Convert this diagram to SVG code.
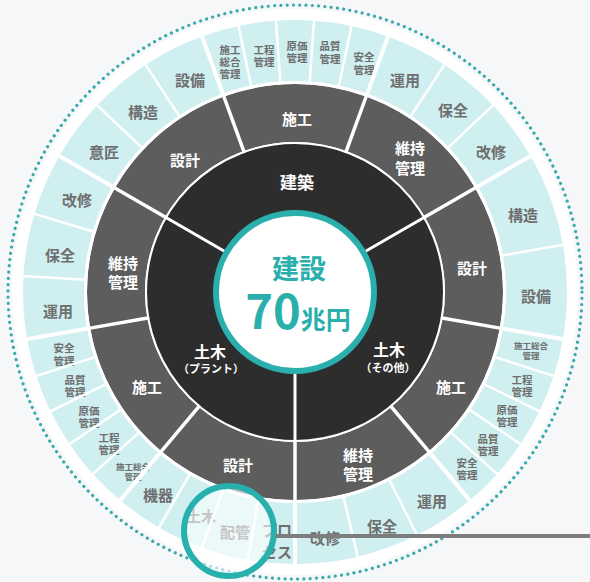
<svg xmlns="http://www.w3.org/2000/svg" width="590" height="582" viewBox="0 0 590 582">
<defs>
<style>
text{font-family:"Noto Sans CJK JP","Noto Sans CJK SC",sans-serif;text-anchor:middle;font-weight:700}
.c{fill:none;stroke:#cfeff1;stroke-width:61}
.s13{stroke-dasharray:57.2 2000}
.s8{stroke-dasharray:34.7 2000}
.s20{stroke-dasharray:85.3 2000}
.s10{stroke-dasharray:43.2 2000}
.g{fill:none;stroke:#5d5d5d;stroke-width:58;stroke-dasharray:126 2000}
.b{fill:none;stroke:#2d2d2d;stroke-width:70;stroke-dasharray:240 2000}
.t2{font-size:15px;fill:#6e6e6e}
.t4{font-size:10.5px;fill:#6e6e6e}
.t9{font-size:8.5px;fill:#6e6e6e}
.w{font-size:15px;fill:#fff}
#separators line{stroke:#fff}
.sb{stroke-width:3}
.sg{stroke-width:3.5}
.sc{stroke-width:4}
.si{stroke-width:2.5}
</style>
</defs>
<rect x="0" y="0" width="590" height="582" fill="#f5f7f9"/>
<circle cx="295" cy="292" r="283" fill="#fff"/>
<circle cx="295" cy="292" r="287" fill="none" stroke="#38a9ac" stroke-width="3.2" stroke-dasharray="0.01 6.3" stroke-linecap="round"/>

<!-- outer ring cells -->
<g id="c01"><circle class="c s13" r="241.5" transform="translate(295 292) rotate(210)"/><text class="t2" x="104" y="157.5">意匠</text></g>
<g id="c02"><circle class="c s13" r="241.5" transform="translate(295 292) rotate(223.333)"/><text class="t2" x="143" y="117.5">構造</text></g>
<g id="c03"><circle class="c s13" r="241.5" transform="translate(295 292) rotate(236.667)"/><text class="t2" x="190" y="85.5">設備</text></g>
<g id="c04"><circle class="c s8" r="241.5" transform="translate(295 292) rotate(250)"/><text class="t4" x="230" y="54"><tspan x="230">施工</tspan><tspan x="230" dy="12">総合</tspan><tspan x="230" dy="12">管理</tspan></text></g>
<g id="c05"><circle class="c s8" r="241.5" transform="translate(295 292) rotate(258)"/><text class="t4" x="264" y="54"><tspan x="264">工程</tspan><tspan x="264" dy="12">管理</tspan></text></g>
<g id="c06"><circle class="c s8" r="241.5" transform="translate(295 292) rotate(266)"/><text class="t4" x="297" y="49.5"><tspan x="297">原価</tspan><tspan x="297" dy="12.5">管理</tspan></text></g>
<g id="c07"><circle class="c s8" r="241.5" transform="translate(295 292) rotate(-86)"/><text class="t4" x="330" y="50"><tspan x="330">品質</tspan><tspan x="330" dy="12.5">管理</tspan></text></g>
<g id="c08"><circle class="c s8" r="241.5" transform="translate(295 292) rotate(-78)"/><text class="t4" x="364" y="61"><tspan x="364">安全</tspan><tspan x="364" dy="12.5">管理</tspan></text></g>
<g id="c09"><circle class="c s13" r="241.5" transform="translate(295 292) rotate(-70)"/><text class="t2" x="405" y="85.5">運用</text></g>
<g id="c10"><circle class="c s13" r="241.5" transform="translate(295 292) rotate(-56.667)"/><text class="t2" x="453" y="115.5">保全</text></g>
<g id="c11"><circle class="c s13" r="241.5" transform="translate(295 292) rotate(-43.333)"/><text class="t2" x="491" y="157.5">改修</text></g>
<g id="c12"><circle class="c s20" r="241.5" transform="translate(295 292) rotate(-30)"/><text class="t2" x="523" y="220.5">構造</text></g>
<g id="c13"><circle class="c s20" r="241.5" transform="translate(295 292) rotate(-10)"/><text class="t2" x="536" y="302">設備</text></g>
<g id="c14"><circle class="c s8" r="241.5" transform="translate(295 292) rotate(10)"/><text class="t9" x="531" y="349"><tspan x="531">施工総合</tspan><tspan x="531" dy="10">管理</tspan></text></g>
<g id="c15"><circle class="c s8" r="241.5" transform="translate(295 292) rotate(18)"/><text class="t4" x="522" y="383.5"><tspan x="522">工程</tspan><tspan x="522" dy="12">管理</tspan></text></g>
<g id="c16"><circle class="c s8" r="241.5" transform="translate(295 292) rotate(26)"/><text class="t4" x="507" y="414"><tspan x="507">原価</tspan><tspan x="507" dy="12">管理</tspan></text></g>
<g id="c17"><circle class="c s8" r="241.5" transform="translate(295 292) rotate(34)"/><text class="t4" x="488" y="442.5"><tspan x="488">品質</tspan><tspan x="488" dy="12">管理</tspan></text></g>
<g id="c18"><circle class="c s8" r="241.5" transform="translate(295 292) rotate(42)"/><text class="t4" x="467" y="467"><tspan x="467">安全</tspan><tspan x="467" dy="12">管理</tspan></text></g>
<g id="c19"><circle class="c s13" r="241.5" transform="translate(295 292) rotate(50)"/><text class="t2" x="432" y="506.5">運用</text></g>
<g id="c20"><circle class="c s13" r="241.5" transform="translate(295 292) rotate(63.333)"/><text class="t2" x="382" y="531.5">保全</text></g>
<g id="c21"><circle class="c s13" r="241.5" transform="translate(295 292) rotate(76.667)"/><text class="t2" x="325" y="543.5">改修</text></g>
<g id="c22"><circle class="c s10" r="241.5" transform="translate(295 292) rotate(90)"/><text class="t2" x="277" y="535.5"><tspan x="277">プロ</tspan><tspan x="277" dy="22">セス</tspan></text></g>
<g id="c23"><circle class="c s10" r="241.5" transform="translate(295 292) rotate(100)"/><text class="t2" x="235" y="537.5">配管</text></g>
<g id="c24"><circle class="c s10" r="241.5" transform="translate(295 292) rotate(110)"/><text class="t2" x="201" y="521.5">土木</text></g>
<g id="c25"><circle class="c s10" r="241.5" transform="translate(295 292) rotate(120)"/><text class="t2" x="158" y="500.5">機器</text></g>
<g id="c26"><circle class="c s8" r="241.5" transform="translate(295 292) rotate(130)"/><text class="t9" x="133" y="470"><tspan x="133">施工総合</tspan><tspan x="133" dy="10">管理</tspan></text></g>
<g id="c27"><circle class="c s8" r="241.5" transform="translate(295 292) rotate(138)"/><text class="t4" x="109" y="442"><tspan x="109">工程</tspan><tspan x="109" dy="12">管理</tspan></text></g>
<g id="c28"><circle class="c s8" r="241.5" transform="translate(295 292) rotate(146)"/><text class="t4" x="89" y="415"><tspan x="89">原価</tspan><tspan x="89" dy="12">管理</tspan></text></g>
<g id="c29"><circle class="c s8" r="241.5" transform="translate(295 292) rotate(154)"/><text class="t4" x="75" y="384"><tspan x="75">品質</tspan><tspan x="75" dy="12">管理</tspan></text></g>
<g id="c30"><circle class="c s8" r="241.5" transform="translate(295 292) rotate(162)"/><text class="t4" x="64" y="352"><tspan x="64">安全</tspan><tspan x="64" dy="12.5">管理</tspan></text></g>
<g id="c31"><circle class="c s13" r="241.5" transform="translate(295 292) rotate(170)"/><text class="t2" x="58" y="316.5">運用</text></g>
<g id="c32"><circle class="c s13" r="241.5" transform="translate(295 292) rotate(183.333)"/><text class="t2" x="60" y="260.5">保全</text></g>
<g id="c33"><circle class="c s13" r="241.5" transform="translate(295 292) rotate(196.667)"/><text class="t2" x="77" y="205.5">改修</text></g>

<!-- middle ring -->
<g id="g1"><circle class="g" r="179" transform="translate(295 292) rotate(250)"/><text class="w" x="297" y="125">施工</text></g>
<g id="g2"><circle class="g" r="179" transform="translate(295 292) rotate(-70)"/><text class="w" x="410" y="153.5"><tspan x="410">維持</tspan><tspan x="410" dy="20">管理</tspan></text></g>
<g id="g3"><circle class="g" r="179" transform="translate(295 292) rotate(-30)"/><text class="w" x="472" y="273.5">設計</text></g>
<g id="g4"><circle class="g" r="179" transform="translate(295 292) rotate(10)"/><text class="w" x="451" y="392.5">施工</text></g>
<g id="g5"><circle class="g" r="179" transform="translate(295 292) rotate(50)"/><text class="w" x="358" y="460.5"><tspan x="358">維持</tspan><tspan x="358" dy="19">管理</tspan></text></g>
<g id="g6"><circle class="g" r="179" transform="translate(295 292) rotate(90)"/><text class="w" x="238" y="470.5">設計</text></g>
<g id="g7"><circle class="g" r="179" transform="translate(295 292) rotate(130)"/><text class="w" x="147" y="392.5">施工</text></g>
<g id="g8"><circle class="g" r="179" transform="translate(295 292) rotate(170)"/><text class="w" x="123" y="268.5"><tspan x="123">維持</tspan><tspan x="123" dy="19">管理</tspan></text></g>
<g id="g9"><circle class="g" r="179" transform="translate(295 292) rotate(210)"/><text class="w" x="185" y="165.5">設計</text></g>

<!-- inner ring -->
<g id="kenchiku"><circle class="b" r="114" transform="translate(295 292) rotate(210)"/><text class="w" style="font-size:17px" x="297" y="188.5">建築</text></g>
<g id="doboku-other"><circle class="b" r="114" transform="translate(295 292) rotate(-30)"/><text class="w" style="font-size:16px" x="389" y="356">土木</text><text class="w" style="font-size:11px" x="388" y="372">（その他）</text></g>
<g id="doboku-plant"><circle class="b" r="114" transform="translate(295 292) rotate(90)"/><text class="w" style="font-size:16px" x="210" y="358">土木</text><text class="w" style="font-size:11px" x="211" y="373">（プラント）</text></g>

<g id="separators" transform="translate(295 292)">
<circle r="149" fill="none" stroke="#fff" stroke-width="2"/>
<circle r="209.5" fill="none" stroke="#fff" stroke-width="3"/>
<line class="sb" x1="0" y1="-76" x2="0" y2="-150" transform="rotate(60)"/>
<line class="sb" x1="0" y1="-76" x2="0" y2="-150" transform="rotate(180)"/>
<line class="sb" x1="0" y1="-76" x2="0" y2="-150" transform="rotate(300)"/>
<line class="sg" x1="0" y1="-148" x2="0" y2="-211" transform="rotate(20)"/>
<line class="sg" x1="0" y1="-148" x2="0" y2="-211" transform="rotate(60)"/>
<line class="sg" x1="0" y1="-148" x2="0" y2="-211" transform="rotate(100)"/>
<line class="sg" x1="0" y1="-148" x2="0" y2="-211" transform="rotate(140)"/>
<line class="sg" x1="0" y1="-148" x2="0" y2="-211" transform="rotate(180)"/>
<line class="sg" x1="0" y1="-148" x2="0" y2="-211" transform="rotate(220)"/>
<line class="sg" x1="0" y1="-148" x2="0" y2="-211" transform="rotate(260)"/>
<line class="sg" x1="0" y1="-148" x2="0" y2="-211" transform="rotate(300)"/>
<line class="sg" x1="0" y1="-148" x2="0" y2="-211" transform="rotate(340)"/>
<line class="sc" x1="0" y1="-209" x2="0" y2="-274" transform="rotate(20)"/>
<line class="sc" x1="0" y1="-209" x2="0" y2="-274" transform="rotate(60)"/>
<line class="sc" x1="0" y1="-209" x2="0" y2="-274" transform="rotate(100)"/>
<line class="sc" x1="0" y1="-209" x2="0" y2="-274" transform="rotate(140)"/>
<line class="sc" x1="0" y1="-209" x2="0" y2="-274" transform="rotate(180)"/>
<line class="sc" x1="0" y1="-209" x2="0" y2="-274" transform="rotate(220)"/>
<line class="sc" x1="0" y1="-209" x2="0" y2="-274" transform="rotate(260)"/>
<line class="sc" x1="0" y1="-209" x2="0" y2="-274" transform="rotate(300)"/>
<line class="sc" x1="0" y1="-209" x2="0" y2="-274" transform="rotate(340)"/>
<line class="si" x1="0" y1="-209" x2="0" y2="-274" transform="rotate(313.333)"/>
<line class="si" x1="0" y1="-209" x2="0" y2="-274" transform="rotate(326.667)"/>
<line class="si" x1="0" y1="-209" x2="0" y2="-274" transform="rotate(348)"/>
<line class="si" x1="0" y1="-209" x2="0" y2="-274" transform="rotate(356)"/>
<line class="si" x1="0" y1="-209" x2="0" y2="-274" transform="rotate(4)"/>
<line class="si" x1="0" y1="-209" x2="0" y2="-274" transform="rotate(12)"/>
<line class="si" x1="0" y1="-209" x2="0" y2="-274" transform="rotate(33.333)"/>
<line class="si" x1="0" y1="-209" x2="0" y2="-274" transform="rotate(46.667)"/>
<line class="si" x1="0" y1="-209" x2="0" y2="-274" transform="rotate(80)"/>
<line class="si" x1="0" y1="-209" x2="0" y2="-274" transform="rotate(108)"/>
<line class="si" x1="0" y1="-209" x2="0" y2="-274" transform="rotate(116)"/>
<line class="si" x1="0" y1="-209" x2="0" y2="-274" transform="rotate(124)"/>
<line class="si" x1="0" y1="-209" x2="0" y2="-274" transform="rotate(132)"/>
<line class="si" x1="0" y1="-209" x2="0" y2="-274" transform="rotate(153.333)"/>
<line class="si" x1="0" y1="-209" x2="0" y2="-274" transform="rotate(166.667)"/>
<line class="si" x1="0" y1="-209" x2="0" y2="-274" transform="rotate(190)"/>
<line class="si" x1="0" y1="-209" x2="0" y2="-274" transform="rotate(200)"/>
<line class="si" x1="0" y1="-209" x2="0" y2="-274" transform="rotate(210)"/>
<line class="si" x1="0" y1="-209" x2="0" y2="-274" transform="rotate(228)"/>
<line class="si" x1="0" y1="-209" x2="0" y2="-274" transform="rotate(236)"/>
<line class="si" x1="0" y1="-209" x2="0" y2="-274" transform="rotate(244)"/>
<line class="si" x1="0" y1="-209" x2="0" y2="-274" transform="rotate(252)"/>
<line class="si" x1="0" y1="-209" x2="0" y2="-274" transform="rotate(273.333)"/>
<line class="si" x1="0" y1="-209" x2="0" y2="-274" transform="rotate(286.667)"/>
</g>

<g id="center">
<circle cx="295" cy="292" r="79" fill="#fff" stroke="#2aafac" stroke-width="6"/>
<text x="299" y="279" style="font-size:27px;fill:#2aafac">建設</text>
<text x="298" y="329" style="fill:#2aafac"><tspan style="font-size:47px">70</tspan><tspan style="font-size:25px">兆円</tspan></text>
</g>

<g id="highlight">
<circle cx="229" cy="531" r="45" fill="#fff" fill-opacity="0.6" stroke="#27b0ad" stroke-width="6"/>
</g>

<g id="connectors">
<line x1="276" y1="536" x2="590" y2="536" stroke="#7d7d7d" stroke-width="4"/>
</g>
</svg>
